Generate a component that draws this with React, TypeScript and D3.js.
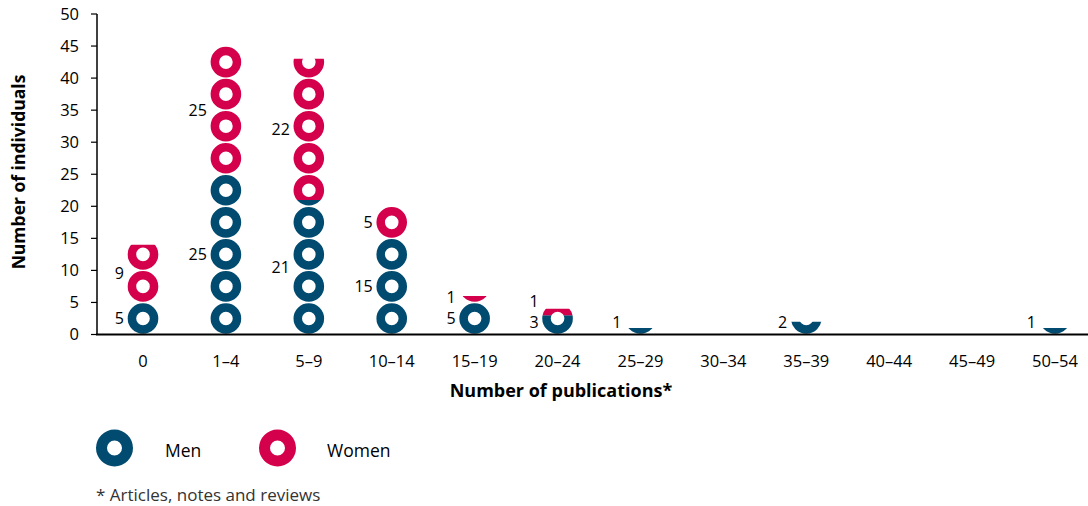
import React from "react";
import * as d3 from "d3";

// ---- data ----
const categories = ["0", "1–4", "5–9", "10–14", "15–19", "20–24", "25–29", "30–34", "35–39", "40–44", "45–49", "50–54"];
const menValues = [5, 25, 21, 15, 5, 3, 1, 0, 2, 0, 0, 1];
// drawn heights of the women's stacks as they appear in the picture
const womenValues = [9, 20, 22, 5, 1, 1, 0, 0, 0, 0, 0, 0];
// data labels as printed in the picture
const menLabels = ["5", "25", "21", "15", "5", "3", "1", "", "2", "", "", "1"];
const womenLabels = ["9", "25", "22", "5", "1", "1", "", "", "", "", "", ""];
const yTicks = [0, 5, 10, 15, 20, 25, 30, 35, 40, 45, 50];
const unitsPerPicture = 5;
const seriesNames = ["Men", "Women"];

const W = 1088;
const H = 506;
const BLUE = "#004B6F";
const RED = "#D5004C";
const FONT = "'Open Sans', Lato, sans-serif";

export default function App() {
  const y = d3.scaleLinear().domain([0, 50]).range([334.5, 14]);
  const x = d3.scalePoint<string>().domain(categories).range([143, 1055]);
  const ringR = 15.3;
  const ringIn = 6.8;
  const ring = d3.arc()({ innerRadius: ringIn, outerRadius: ringR, startAngle: 0, endAngle: 2 * Math.PI } as any) as string;
  const legendRing = d3.arc()({ innerRadius: 7.5, outerRadius: 18.5, startAngle: 0, endAngle: 2 * Math.PI } as any) as string;
  const cells = d3.range(0, 50, unitsPerPicture);

  const segments: any[] = [];
  categories.forEach((c, i) => {
    const m = menValues[i];
    const w = womenValues[i];
    if (m > 0) segments.push({ c, i, lo: 0, hi: m, color: BLUE, key: `m${i}` });
    if (w > 0) segments.push({ c, i, lo: m, hi: m + w, color: RED, key: `w${i}` });
  });

  // label positions
  const labels: any[] = [];
  categories.forEach((c, i) => {
    const m = menValues[i];
    const w = womenValues[i];
    const my = Math.min(y(m / 2), 322.5);
    if (menLabels[i]) labels.push({ key: `lm${i}`, x: x(c)! - 19, y: my, t: menLabels[i] });
    if (womenLabels[i]) {
      let wy = y(m + w / 2);
      if (wy > my - 21) wy = my - 21;
      labels.push({ key: `lw${i}`, x: x(c)! - 19, y: wy, t: womenLabels[i] });
    }
  });

  return (
    <svg width={W} height={H} style={{ position: "absolute", left: 0, top: 0, display: "block", background: "#fff" }} fontFamily={FONT}>
      <defs>
        {segments.map((s) => (
          <clipPath id={`clip-${s.key}`} key={s.key}>
            <rect x={x(s.c)! - 20} width={40} y={y(s.hi)} height={y(s.lo) - y(s.hi)} />
          </clipPath>
        ))}
      </defs>

      {/* pictogram stacks */}
      {segments.map((s) => (
        <g key={s.key} clipPath={`url(#clip-${s.key})`}>
          {cells
            .filter((v) => v < s.hi && v + unitsPerPicture > s.lo)
            .map((v) => (
              <path key={v} d={ring} fill={s.color} transform={`translate(${x(s.c)},${y(v + unitsPerPicture / 2)})`} />
            ))}
        </g>
      ))}

      {/* y axis */}
      <line x1={97} x2={97} y1={y(50)} y2={y(0)} stroke="#000" strokeWidth={1.5} />
      {yTicks.map((t) => (
        <g key={t}>
          <line x1={91} x2={97} y1={y(t)} y2={y(t)} stroke="#000" strokeWidth={1.2} />
          <text x={79} y={y(t)} dy="0.36em" textAnchor="end" fontSize={16.5} fill="#000">{t}</text>
        </g>
      ))}
      {/* x axis */}
      <line x1={96} x2={W} y1={y(0)} y2={y(0)} stroke="#000" strokeWidth={1.8} />
      {categories.map((c) => (
        <text key={c} x={x(c)} y={367} textAnchor="middle" fontSize={16.5} fill="#000">{c}</text>
      ))}

      {/* data labels */}
      {labels.map((l) => (
        <text key={l.key} x={l.x} y={l.y} dy="0.36em" textAnchor="end" fontSize={16} fill="#000">{l.t}</text>
      ))}

      {/* axis titles */}
      <text x={561} y={397} textAnchor="middle" fontSize={18} fontWeight="bold" fill="#000">Number of publications*</text>
      <text transform="translate(25,172) rotate(-90)" textAnchor="middle" fontSize={17.5} fontWeight="bold" fill="#000">Number of individuals</text>

      {/* legend */}
      <path d={legendRing} fill={BLUE} transform="translate(114.5,448)" />
      <text x={165} y={451} dy="0.35em" fontSize={17.5} fill="#000">{seriesNames[0]}</text>
      <path d={legendRing} fill={RED} transform="translate(277.5,448)" />
      <text x={327} y={451} dy="0.35em" fontSize={17.5} fill="#000">{seriesNames[1]}</text>

      {/* footnote */}
      <text x={96} y={501} fontSize={17} fill="#333">* Articles, notes and reviews</text>
    </svg>
  );
}
